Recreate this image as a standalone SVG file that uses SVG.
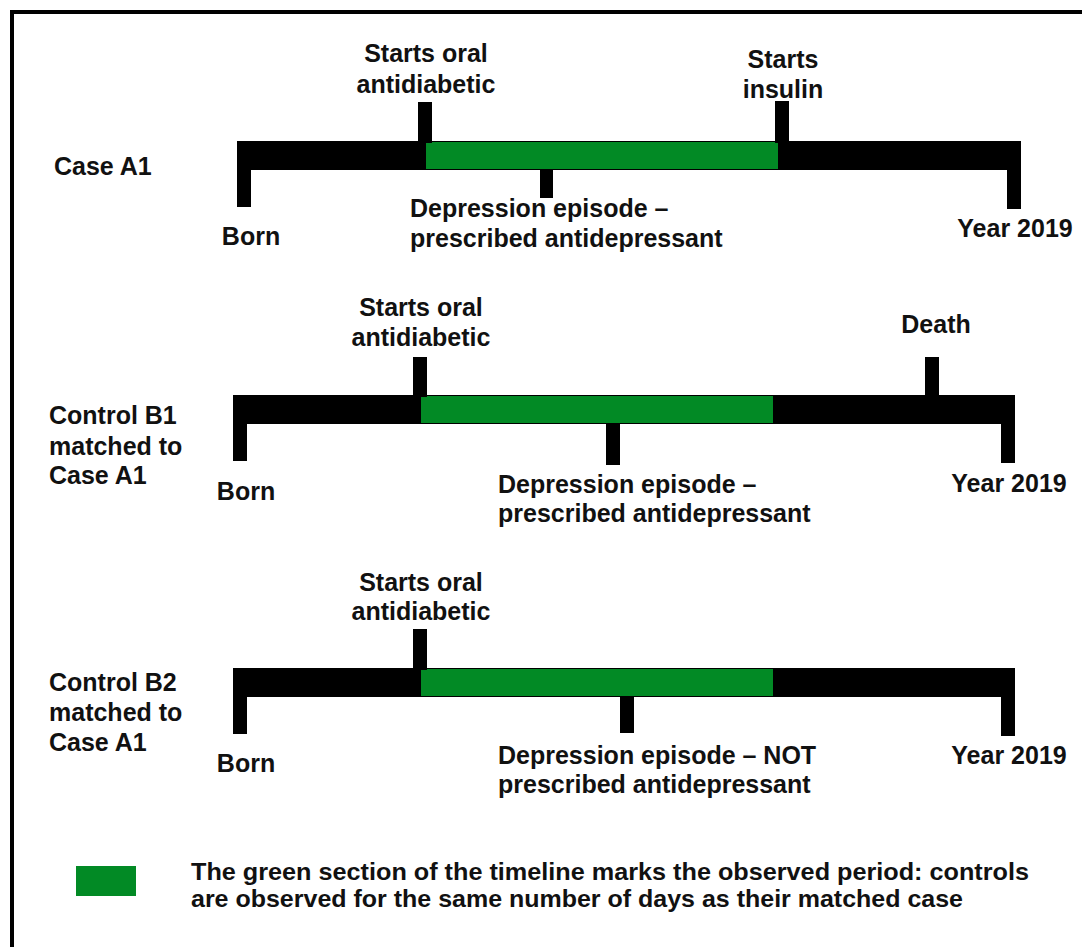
<svg xmlns="http://www.w3.org/2000/svg" width="1082" height="947" viewBox="0 0 1082 947">
<style>
.t{font-family:"Liberation Sans",Arial,sans-serif;font-weight:bold;font-size:25px;fill:#111}
.m{text-anchor:middle}
.k{fill:#000}
.g{fill:#028A25}
.lg{font-family:"Liberation Sans",Arial,sans-serif;font-weight:bold;font-size:24px;fill:#111}
</style>
<rect x="0" y="0" width="1082" height="947" fill="#fff"/>
<rect id="frame" x="12" y="12" width="1092" height="962" fill="none" stroke="#000" stroke-width="4"/>

<g id="timeline-a1">
  <rect class="k" x="237" y="141" width="784" height="29"/>
  <rect class="g" x="426" y="142" width="352" height="27"/>
  <rect class="k" x="237" y="141" width="14" height="66"/>
  <rect class="k" x="1007" y="141" width="14" height="68"/>
  <rect class="k" x="418" y="102" width="14" height="41"/>
  <rect class="k" x="775" y="101" width="14" height="42"/>
  <rect class="k" x="540" y="169" width="13" height="29"/>
  <text class="t" x="54" y="175">Case A1</text>
  <text class="t m" x="426" y="62">Starts oral</text>
  <text class="t m" x="426" y="93">antidiabetic</text>
  <text class="t m" x="783" y="68">Starts</text>
  <text class="t m" x="783" y="98">insulin</text>
  <text class="t m" x="251" y="245">Born</text>
  <text class="t" x="410" y="217">Depression episode –</text>
  <text class="t" x="410" y="247">prescribed antidepressant</text>
  <text class="t m" x="1015" y="237">Year 2019</text>
</g>

<g id="timeline-b1">
  <rect class="k" x="233" y="395" width="782" height="29"/>
  <rect class="g" x="421" y="396" width="352" height="27"/>
  <rect class="k" x="233" y="395" width="14" height="66"/>
  <rect class="k" x="1001" y="395" width="14" height="68"/>
  <rect class="k" x="413" y="357" width="14" height="40"/>
  <rect class="k" x="925" y="357" width="14" height="40"/>
  <rect class="k" x="606" y="423" width="14" height="42"/>
  <text class="t" x="49" y="424">Control B1</text>
  <text class="t" x="49" y="455">matched to</text>
  <text class="t" x="49" y="484">Case A1</text>
  <text class="t m" x="421" y="316">Starts oral</text>
  <text class="t m" x="421" y="346">antidiabetic</text>
  <text class="t m" x="936" y="333">Death</text>
  <text class="t m" x="246" y="500">Born</text>
  <text class="t" x="498" y="493">Depression episode –</text>
  <text class="t" x="498" y="522">prescribed antidepressant</text>
  <text class="t m" x="1009" y="492">Year 2019</text>
</g>

<g id="timeline-b2">
  <rect class="k" x="233" y="668" width="782" height="29"/>
  <rect class="g" x="421" y="669" width="352" height="27"/>
  <rect class="k" x="233" y="668" width="14" height="66"/>
  <rect class="k" x="1001" y="668" width="14" height="68"/>
  <rect class="k" x="413" y="629" width="14" height="41"/>
  <rect class="k" x="620" y="696" width="14" height="37"/>
  <text class="t" x="49" y="691">Control B2</text>
  <text class="t" x="49" y="721">matched to</text>
  <text class="t" x="49" y="751">Case A1</text>
  <text class="t m" x="421" y="591">Starts oral</text>
  <text class="t m" x="421" y="620">antidiabetic</text>
  <text class="t m" x="246" y="772">Born</text>
  <text class="t" x="498" y="764">Depression episode – NOT</text>
  <text class="t" x="498" y="793">prescribed antidepressant</text>
  <text class="t m" x="1009" y="764">Year 2019</text>
</g>

<g id="legend">
  <rect class="g" x="76" y="866" width="60" height="30"/>
  <text class="lg" x="191" y="880" textLength="838" lengthAdjust="spacingAndGlyphs">The green section of the timeline marks the observed period: controls</text>
  <text class="lg" x="191" y="907" textLength="772" lengthAdjust="spacingAndGlyphs">are observed for the same number of days as their matched case</text>
</g>
<g id="connectors"></g>
</svg>
